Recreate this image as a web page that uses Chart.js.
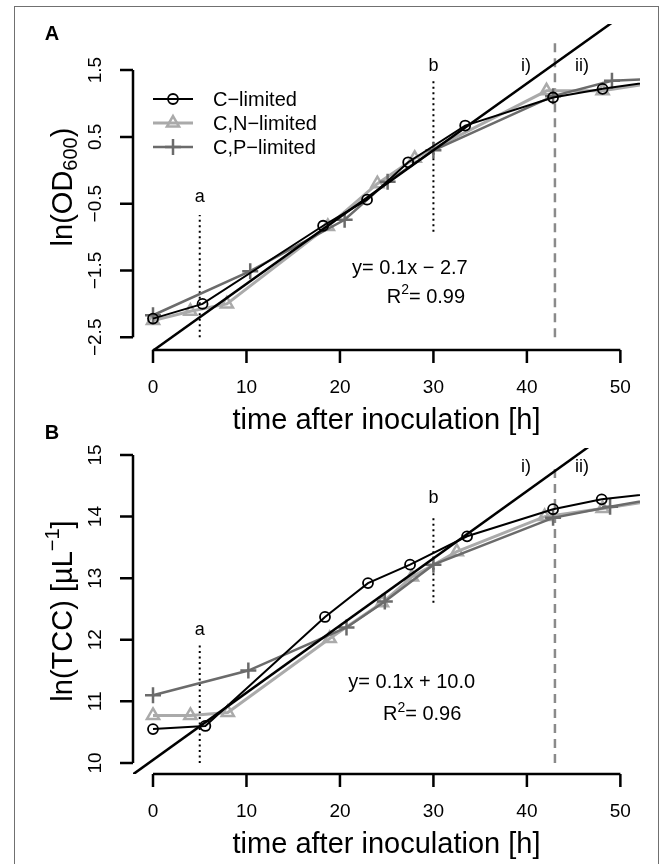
<!DOCTYPE html>
<html><head><meta charset="utf-8">
<script src="https://cdn.jsdelivr.net/npm/chart.js@4.4.0/dist/chart.umd.min.js"></script>
<style>
html,body{margin:0;padding:0;background:#fff;overflow:hidden;}
#wrap{position:relative;width:669px;height:864px;overflow:hidden;}
#frame{position:absolute;left:14px;top:6px;width:645px;height:900px;border:1.5px solid #707070;box-sizing:border-box;}
canvas{position:absolute;left:0;}
</style></head><body>
<div id="wrap">
<div id="frame"></div>
<canvas id="cA" width="669" height="440" style="top:0px"></canvas>
<canvas id="cB" width="669" height="448" style="top:416px"></canvas>
</div>
<script>
// ---------- data ----------
const xTicks = [0, 10, 20, 30, 40, 50];
const odTicks = [-2.5, -1.5, -0.5, 0.5, 1.5];
const odTickLabels = ['\u22122.5', '\u22121.5', '\u22120.5', '0.5', '1.5'];
const tccTicks = [10, 11, 12, 13, 14, 15];
const tccTickLabels = ['10', '11', '12', '13', '14', '15'];
const seriesNames = ['C\u2212limited', 'C,N\u2212limited', 'C,P\u2212limited'];

// Panel A: ln(OD600)
const odC_x = [0, 5.3, 18.2, 22.9, 27.3, 33.4, 42.8, 48.1, 56];
const odC_y = [-2.22, -2.0, -0.83, -0.44, 0.12, 0.67, 1.09, 1.22, 1.38];
const odN_x = [0, 4, 7.9, 18.7, 24, 28, 42.1, 48.1, 56];
const odN_y = [-2.25, -2.11, -2.0, -0.84, -0.2, 0.18, 1.19, 1.19, 1.36];
const odP_x = [0, 10.4, 20.5, 25.1, 30, 42.8, 49.1, 56];
const odP_y = [-2.17, -1.51, -0.74, -0.17, 0.3, 1.11, 1.34, 1.38];
const odFit_x = [-3, 55];
const odFit_y = [-3.0, 2.8];

// Panel B: ln(TCC)
const tccC_x = [0, 5.6, 18.4, 23, 27.5, 33.6, 42.8, 48, 56];
const tccC_y = [10.55, 10.6, 12.37, 12.92, 13.22, 13.68, 14.12, 14.28, 14.42];
const tccN_x = [0, 4, 8, 18.9, 24.5, 27.7, 32.5, 41.9, 48.1, 56];
const tccN_y = [10.77, 10.77, 10.82, 12.02, 12.6, 13.02, 13.43, 14.0, 14.13, 14.32];
const tccP_x = [0, 10.2, 20.7, 24.8, 30, 42.8, 48.9, 56];
const tccP_y = [11.1, 11.5, 12.2, 12.62, 13.22, 13.98, 14.16, 14.35];
const tccFit_x = [-3, 55];
const tccFit_y = [9.72, 16.05];

// reference markers (x positions of a, b, i)/ii) boundary)
const markA_x = 5, markB_x = 30, phase_x = 43;
const odMarkA_y = [-2.5, -0.67], odMarkB_y = [-0.92, 1.38], odPhase_y = [-2.5, 1.92];
const tccMarkA_y = [10.0, 11.92], tccMarkB_y = [12.6, 14.03], tccPhase_y = [10.0, 14.87];

// ---------- helpers ----------
const FONT = '"Liberation Sans", Arial, Helvetica, sans-serif';
const pts = (xs, ys) => xs.map((x, i) => ({x, y: ys[i]}));
const STY = [
  {color: '#000000', width: 2, style: 'circle', r: 5, pbw: 1.8, order: 1},
  {color: '#aaaaaa', width: 3, style: 'triangle', r: 7, pbw: 2.5, order: 3},
  {color: '#6b6b6b', width: 2.5, style: 'cross', r: 8, pbw: 2.5, order: 2}
];
function seriesDs(i, xs, ys) {
  const s = STY[i];
  return {label: seriesNames[i], data: pts(xs, ys), borderColor: s.color, borderWidth: s.width,
    pointStyle: s.style, pointRadius: s.r, pointBorderWidth: s.pbw, pointBorderColor: s.color,
    pointBackgroundColor: 'rgba(0,0,0,0)', tension: 0, order: s.order, showLine: true};
}
function refDs(xv, ys, color, dash, w) {
  return {data: pts([xv, xv], ys), borderColor: color, borderWidth: w, borderDash: dash,
    pointRadius: 0, order: 10, showLine: true};
}
function fitDs(xs, ys) {
  return {data: pts(xs, ys), borderColor: '#000', borderWidth: 2.5, pointRadius: 0, order: 0, showLine: true};
}

function drawRuns(ctx, runs) {
  ctx.textAlign = 'left';
  let total = 0;
  runs.forEach(r => { ctx.font = r.s + 'px ' + FONT; r.w = ctx.measureText(r.t).width; total += r.w; });
  let x = -total / 2;
  runs.forEach(r => { ctx.font = r.s + 'px ' + FONT; ctx.fillText(r.t, x, r.dy || 0); x += r.w; });
  ctx.textAlign = 'center';
}
function drawRunsLeft(ctx, runs, x0, y0) {
  ctx.textAlign = 'left';
  let x = x0;
  runs.forEach(r => { ctx.font = r.s + 'px ' + FONT; ctx.fillText(r.t, x, y0 + (r.dy || 0)); x += ctx.measureText(r.t).width; });
}

const rStyle = {
  id: 'rStyle',
  afterDraw(chart, args, o) {
    const ctx = chart.ctx, xs = chart.scales.x, ys = chart.scales.y, ca = chart.chartArea;
    ctx.save();
    ctx.strokeStyle = '#000'; ctx.fillStyle = '#000'; ctx.lineWidth = 2.5; ctx.lineCap = 'butt';
    // x axis
    const yb = ca.bottom;
    ctx.beginPath();
    ctx.moveTo(xs.getPixelForValue(xTicks[0]), yb);
    ctx.lineTo(xs.getPixelForValue(xTicks[xTicks.length - 1]), yb);
    xTicks.forEach(v => { const px = xs.getPixelForValue(v); ctx.moveTo(px, yb); ctx.lineTo(px, yb + 13); });
    ctx.stroke();
    ctx.textAlign = 'center'; ctx.textBaseline = 'middle';
    ctx.font = '19px ' + FONT;
    xTicks.forEach(v => ctx.fillText(String(v), xs.getPixelForValue(v), yb + 38));
    ctx.font = '29px ' + FONT;
    ctx.fillText('time after inoculation [h]', (ca.left + ca.right) / 2, yb + 71);
    // y axis
    const xl = ca.left;
    ctx.beginPath();
    ctx.moveTo(xl, ys.getPixelForValue(o.yTicks[0]));
    ctx.lineTo(xl, ys.getPixelForValue(o.yTicks[o.yTicks.length - 1]));
    o.yTicks.forEach(v => { const py = ys.getPixelForValue(v); ctx.moveTo(xl, py); ctx.lineTo(xl - 13, py); });
    ctx.stroke();
    ctx.font = '19px ' + FONT;
    o.yTicks.forEach((v, i) => {
      ctx.save(); ctx.translate(xl - 37, ys.getPixelForValue(v)); ctx.rotate(-Math.PI / 2);
      ctx.fillText(o.yLabels[i], 0, 0); ctx.restore();
    });
    // y title
    ctx.save(); ctx.translate(64, (ca.top + ca.bottom) / 2); ctx.rotate(-Math.PI / 2);
    drawRuns(ctx, o.yTitle); ctx.restore();
    // panel letter
    ctx.textAlign = 'center';
    ctx.font = 'bold 20px ' + FONT;
    ctx.fillText(o.panel, 52, o.panelY);
    // annotations
    ctx.font = '18px ' + FONT;
    o.notes.forEach(n => ctx.fillText(n.t, xs.getPixelForValue(n.x), ys.getPixelForValue(n.y)));
    // equation
    drawRunsLeft(ctx, [{t: o.eq, s: 20}], xs.getPixelForValue(o.eqPos[0]), ys.getPixelForValue(o.eqPos[1]));
    drawRunsLeft(ctx, [{t: 'R', s: 20}, {t: '2', s: 14, dy: -7}, {t: '= ' + o.r2, s: 20}],
      xs.getPixelForValue(o.r2Pos[0]), ys.getPixelForValue(o.r2Pos[1]));
    // legend
    if (o.legend) {
      const ds = chart.data.datasets;
      [0, 1, 2].forEach(i => {
        const y = 99 + i * 24;
        const s = STY[i];
        ctx.strokeStyle = s.color; ctx.lineWidth = s.width;
        ctx.beginPath(); ctx.moveTo(153, y); ctx.lineTo(193, y); ctx.stroke();
        ctx.fillStyle = 'rgba(0,0,0,0)'; ctx.lineWidth = s.pbw;
        Chart.helpers.drawPoint(ctx, {pointStyle: s.style, radius: s.r, borderWidth: s.pbw}, 173, y);
        ctx.fillStyle = '#000'; ctx.font = '20px ' + FONT; ctx.textAlign = 'left';
        ctx.fillText(ds[i].label, 213, y + 1);
      });
    }
    ctx.restore();
  }
};

function makeChart(id, datasets, yMin, yMax, pad, plug) {
  return new Chart(document.getElementById(id), {
    type: 'scatter',
    data: {datasets},
    options: {
      responsive: false, animation: false, devicePixelRatio: 1,
      layout: {padding: pad},
      scales: {
        x: {type: 'linear', min: -2.14, max: 52.1, display: false},
        y: {type: 'linear', min: yMin, max: yMax, display: false}
      },
      plugins: {legend: {display: false}, tooltip: {enabled: false}, rStyle: plug}
    },
    plugins: [rStyle]
  });
}

makeChart('cA', [
  seriesDs(0, odC_x, odC_y), seriesDs(1, odN_x, odN_y), seriesDs(2, odP_x, odP_y),
  fitDs(odFit_x, odFit_y),
  refDs(markA_x, odMarkA_y, '#000', [2, 3.5], 2),
  refDs(markB_x, odMarkB_y, '#000', [2, 3.5], 2),
  refDs(phase_x, odPhase_y, '#8a8a8a', [9, 6], 2.5)
], -2.69, 2.19, {left: 133, right: 29, top: 24, bottom: 90}, {
  yTicks: odTicks, yLabels: odTickLabels, panel: 'A', panelY: 34, legend: true,
  yTitle: [{t: 'ln(OD', s: 29}, {t: '600', s: 20, dy: 7}, {t: ')', s: 29}],
  notes: [{t: 'a', x: markA_x, y: -0.4}, {t: 'b', x: markB_x, y: 1.56}, {t: 'i)', x: 39.9, y: 1.56}, {t: 'ii)', x: 45.9, y: 1.56}],
  eq: 'y= 0.1x \u2212 2.7', eqPos: [21.3, -1.47], r2: '0.99', r2Pos: [25.0, -1.9]
});

makeChart('cB', [
  seriesDs(0, tccC_x, tccC_y), seriesDs(1, tccN_x, tccN_y), seriesDs(2, tccP_x, tccP_y),
  fitDs(tccFit_x, tccFit_y),
  refDs(markA_x, tccMarkA_y, '#000', [2, 3.5], 2),
  refDs(markB_x, tccMarkB_y, '#000', [2, 3.5], 2),
  refDs(phase_x, tccPhase_y, '#8a8a8a', [9, 6], 2.5)
], 9.82, 15.114, {left: 133, right: 29, top: 32, bottom: 90}, {
  yTicks: tccTicks, yLabels: tccTickLabels, panel: 'B', panelY: 17,
  legend: false,
  yTitle: [{t: 'ln(TCC) [\u00b5L', s: 29}, {t: '\u22121', s: 20, dy: -11}, {t: ']', s: 29}],
  notes: [{t: 'a', x: markA_x, y: 12.16}, {t: 'b', x: markB_x, y: 14.3}, {t: 'i)', x: 39.9, y: 14.8}, {t: 'ii)', x: 45.9, y: 14.8}],
  eq: 'y= 0.1x + 10.0', eqPos: [20.9, 11.3], r2: '0.96', r2Pos: [24.6, 10.78]
});
</script>
</body></html>
